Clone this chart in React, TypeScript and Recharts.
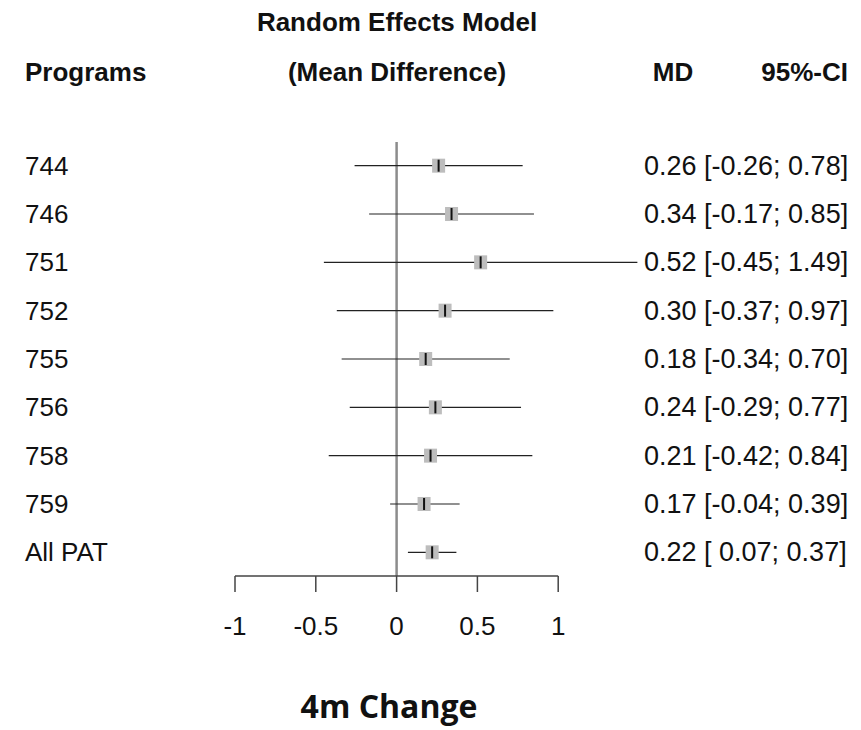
import React from "react";
import {
  ScatterChart,
  Scatter,
  XAxis,
  YAxis,
  ReferenceLine,
} from "recharts";

// forest plot, random effects model, 4m change

const programs = ["744", "746", "751", "752", "755", "756", "758", "759", "All PAT"];
const meanDiff = [0.26, 0.34, 0.52, 0.3, 0.18, 0.24, 0.21, 0.17, 0.22];
const ciLow = [-0.26, -0.17, -0.45, -0.37, -0.34, -0.29, -0.42, -0.04, 0.07];
const ciHigh = [0.78, 0.85, 1.49, 0.97, 0.7, 0.77, 0.84, 0.39, 0.37];
const xTicks = [-1, -0.5, 0, 0.5, 1];

const FONT = "Arial, 'Liberation Sans', sans-serif";

const rows = programs.map((name, i) => ({
  row: i,
  name,
  md: meanDiff[i],
  lo: ciLow[i],
  hi: ciHigh[i],
}));

const fmt = (v: number) => (v < 0 ? v.toFixed(2) : " " + v.toFixed(2));

const SquareMark = (props: any) => {
  const { cx, cy } = props;
  if (cx == null || cy == null) return null;
  return (
    <g>
      <rect x={cx - 6.5} y={cy - 7} width={13} height={14} fill="#bdbdbd" />
      <line x1={cx} x2={cx} y1={cy - 6} y2={cy + 6} stroke="#111" strokeWidth={2} />
    </g>
  );
};

const NoMark = () => null;

const LeftTick = (props: any) => {
  const { y, payload } = props;
  return (
    <text x={25} y={y} dominantBaseline="central" fontFamily={FONT} fontSize={26} fill="#111">
      {programs[payload.value]}
    </text>
  );
};

const RightTick = (props: any) => {
  const { x, y, payload } = props;
  const i = payload.value;
  return (
    <text
      x={x}
      y={y}
      dominantBaseline="central"
      fontFamily={FONT}
      fontSize={27}
      fill="#111"
      style={{ whiteSpace: "pre" }}
    >
      {`${meanDiff[i].toFixed(2)} [${fmt(ciLow[i])}; ${ciHigh[i].toFixed(2)}]`}
    </text>
  );
};

const BottomTick = (props: any) => {
  const { x, y, payload } = props;
  return (
    <text x={x} y={y + 32} textAnchor="middle" dominantBaseline="central" fontFamily={FONT} fontSize={26} fill="#111">
      {payload.value}
    </text>
  );
};

export default function App() {
  return (
    <div style={{ position: "absolute", left: 0, top: 0, width: 861, height: 730, background: "#fff" }}>
      <ScatterChart width={861} height={730} margin={{ top: 142, right: 0, bottom: 84, left: 0 }}>
        <XAxis
          type="number"
          dataKey="md"
          domain={[-1, 1.5]}
          ticks={xTicks}
          interval={0}
          tickSize={16}
          tickMargin={2}
          axisLine={false}
          tickLine={{ stroke: "#444", strokeWidth: 1.5 }}
          height={70}
          tick={<BottomTick />}
        />
        <YAxis
          yAxisId="left"
          type="number"
          dataKey="row"
          domain={[-0.49, 8.49]}
          reversed
          ticks={rows.map((r) => r.row)}
          interval={0}
          width={235}
          axisLine={false}
          tickLine={false}
          tick={<LeftTick />}
        />
        <YAxis
          yAxisId="right"
          orientation="right"
          type="number"
          dataKey="row"
          domain={[-0.49, 8.49]}
          reversed
          ticks={rows.map((r) => r.row)}
          interval={0}
          width={222}
          tickSize={3}
          tickMargin={2}
          axisLine={false}
          tickLine={false}
          tick={<RightTick />}
        />
        <ReferenceLine yAxisId="left" x={0} stroke="#8c8c8c" strokeWidth={2.5} />
        <ReferenceLine
          yAxisId="left"
          segment={[{ x: -1, y: 8.49 }, { x: 1, y: 8.49 }]}
          stroke="#444"
          strokeWidth={1.5}
          ifOverflow="visible"
        />
        {rows.map((r) => (
          <ReferenceLine
            key={r.name}
            yAxisId="left"
            segment={[{ x: r.lo, y: r.row }, { x: r.hi, y: r.row }]}
            stroke="#222"
            strokeWidth={1.2}
            ifOverflow="visible"
          />
        ))}
        <Scatter yAxisId="right" data={rows} shape={<NoMark />} isAnimationActive={false} />
        <Scatter yAxisId="left" data={rows} shape={<SquareMark />} isAnimationActive={false} />
      </ScatterChart>
      <svg width={861} height={730} style={{ position: "absolute", left: 0, top: 0, pointerEvents: "none" }}>
        <g fontFamily={FONT} fontSize={26} fontWeight="bold" fill="#111">
          <text x={397} y={31} textAnchor="middle">Random Effects Model</text>
          <text x={25} y={81}>Programs</text>
          <text x={397} y={81} textAnchor="middle">(Mean Difference)</text>
          <text x={673} y={81} textAnchor="middle">MD</text>
          <text x={848} y={81} textAnchor="end">95%-CI</text>
        </g>
        <text
          x={389}
          y={718}
          textAnchor="middle"
          fontFamily="'Open Sans', sans-serif"
          fontWeight="bold"
          fontSize={32}
          fill="#111"
        >
          4m Change
        </text>
      </svg>
    </div>
  );
}
